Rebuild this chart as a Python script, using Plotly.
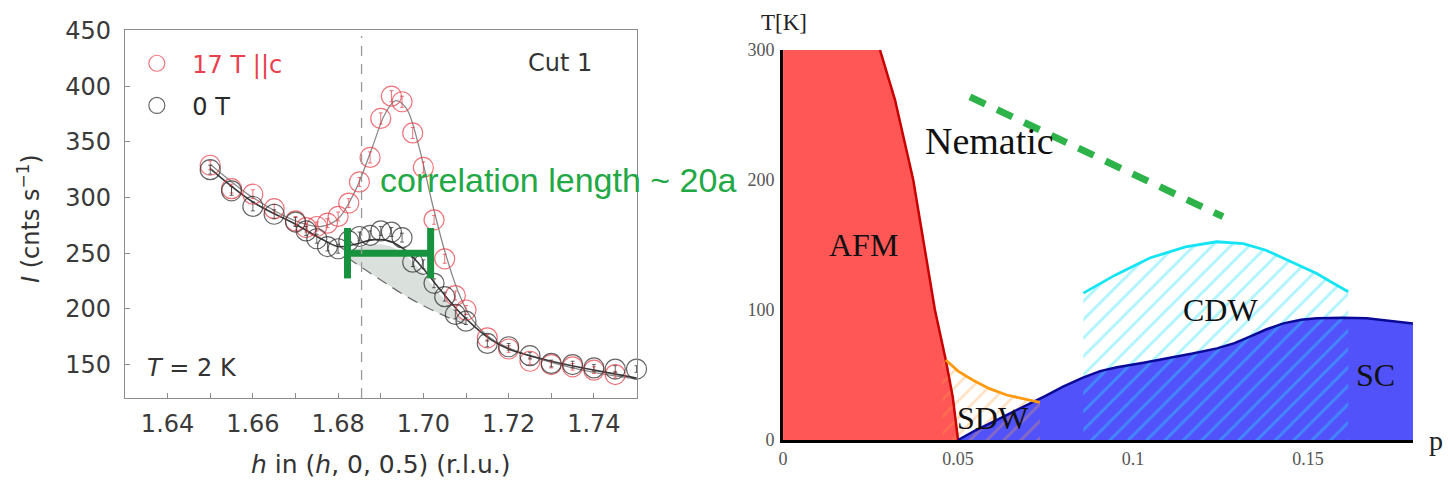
import plotly.graph_objects as go

# ---------------- left panel: intensity cuts ----------------
# 17 T (field || c) scan
h_17T = [1.650, 1.655, 1.660, 1.665, 1.670, 1.6725, 1.675, 1.6775, 1.680, 1.6825,
         1.685, 1.6875, 1.690, 1.6925, 1.695, 1.6975, 1.700, 1.7025, 1.705, 1.7075,
         1.710, 1.715, 1.720, 1.725, 1.730, 1.735, 1.740, 1.745]
I_17T = [329, 308, 303, 290, 279, 273, 274, 277, 283, 295,
         314, 336, 371, 391, 386, 358, 327, 280, 245, 212,
         199, 174, 164, 153, 150, 148, 145, 141]
err_17T = [4, 4, 4, 4, 4, 4, 4, 4, 4, 4,
           4, 5, 5, 5, 5, 5, 5, 4, 4, 4,
           4, 3, 3, 3, 3, 3, 3, 3]

# 0 T scan
h_0T = [1.650, 1.655, 1.660, 1.665, 1.670, 1.6725, 1.675, 1.6775, 1.680, 1.6825,
        1.685, 1.6875, 1.690, 1.6925, 1.695, 1.6975, 1.700, 1.7025, 1.705, 1.7075,
        1.710, 1.715, 1.720, 1.725, 1.730, 1.735, 1.740, 1.745, 1.750]
I_0T = [325, 306, 292, 285, 278, 270, 263, 256, 254, 261,
        265, 266, 270, 269, 264, 242, 240, 223, 211, 195,
        189, 169, 166, 158, 151, 150, 147, 146, 146]
err_0T = [4, 4, 4, 4, 4, 4, 4, 4, 4, 4,
          4, 4, 4, 4, 4, 4, 4, 4, 4, 4,
          3, 3, 3, 3, 3, 3, 3, 3, 3]

# fitted curves
fit17_h = [1.650, 1.660, 1.670, 1.676, 1.680, 1.684, 1.688, 1.691, 1.6935, 1.696,
           1.699, 1.702, 1.705, 1.708, 1.711, 1.715, 1.720, 1.730, 1.740, 1.750]
fit17_I = [330, 300, 279, 274, 281, 306, 345, 375, 387, 380,
           345, 296, 252, 217, 193, 176, 165, 152, 143, 137]
fit0_h = [1.650, 1.660, 1.670, 1.676, 1.680, 1.684, 1.688, 1.692, 1.696, 1.700,
          1.704, 1.708, 1.712, 1.716, 1.720, 1.730, 1.740, 1.750]
fit0_I = [326, 296, 276, 263, 256, 258, 262, 261, 252, 236,
          217, 199, 184, 172, 164, 153, 145, 138]

# zero-field bump above the smooth background
bump_h = [1.6822, 1.686, 1.690, 1.694, 1.698, 1.702, 1.706, 1.710]
bump_fit = [250, 256, 258, 253, 240, 222, 204, 189]
bump_bg = [246, 236, 226, 216, 207, 199, 192, 186]

peak_h = 1.6855               # dashed guide at the CDW wave-vector
corr_bar_h = [1.6822, 1.7017]  # extent of the correlation-length bar
corr_bar_I = [250, 250]

# ---------------- right panel: phase diagram ----------------
afm_edge_p = [0.0277, 0.0288, 0.0301, 0.0320, 0.0372, 0.0403, 0.0434, 0.0465, 0.0485, 0.0500]
afm_edge_T = [300, 290, 278, 261.5, 200, 150, 100, 61.5, 33, 0]

sc_edge_p = [0.050, 0.055, 0.060, 0.0650, 0.0700, 0.0750, 0.080, 0.0857, 0.0906, 0.0954,
             0.1030, 0.1097, 0.117, 0.124, 0.1290, 0.1334, 0.138, 0.143, 0.148, 0.1525,
             0.160, 0.1668, 0.173, 0.180]
sc_edge_T = [0, 7.5, 14, 20.5, 27, 34, 41, 48, 53, 56,
             59.5, 62.8, 66.5, 70.5, 74.5, 79.5, 85, 89.7, 92.5, 93.6,
             94, 93.6, 92, 89.7]

sdw_edge_p = [0.0465, 0.0500, 0.0543, 0.0590, 0.0639, 0.0690, 0.0734]
sdw_edge_T = [61.5, 53, 46, 39.5, 34.6, 31.3, 29]

cdw_edge_p = [0.0858, 0.0950, 0.1048, 0.1150, 0.1239, 0.1315, 0.1380, 0.143, 0.1480, 0.1525, 0.1570, 0.1615]
cdw_edge_T = [113, 127, 140, 148.5, 152.5, 151, 146, 140, 134, 128, 121, 114]

nematic_p = [0.0534, 0.1257]
nematic_T = [264, 171.8]

RED = "rgba(232,62,72,0.72)"
GREY = "rgba(45,45,45,0.72)"
SANS = "DejaVu Sans"
SERIF = "Liberation Serif"

fig = go.Figure()

# ---- left panel traces ----
fig.add_trace(go.Scatter(x=bump_h, y=bump_fit, mode="lines", line=dict(width=0, shape="spline"),
                         showlegend=False, hoverinfo="skip", xaxis="x", yaxis="y"))
fig.add_trace(go.Scatter(x=bump_h, y=bump_bg, mode="lines", fill="tonexty",
                         fillcolor="rgba(205,213,208,0.75)",
                         line=dict(color="#6e6e6e", width=1.3, dash="11px,7px", shape="spline"),
                         showlegend=False, hoverinfo="skip", xaxis="x", yaxis="y"))
fig.add_trace(go.Scatter(x=fit17_h, y=fit17_I, mode="lines",
                         line=dict(color="#8a8a8a", width=1.3, shape="spline"),
                         showlegend=False, xaxis="x", yaxis="y"))
fig.add_trace(go.Scatter(x=fit0_h, y=fit0_I, mode="lines",
                         line=dict(color="#3a3a3a", width=1.6, shape="spline"),
                         showlegend=False, xaxis="x", yaxis="y"))
fig.add_trace(go.Scatter(x=h_17T, y=I_17T, mode="markers", name="<span style='color:#e8414c'>17 T ||c</span>",
                         marker=dict(symbol="circle-open", size=20, color=RED, line=dict(width=1.2)),
                         error_y=dict(type="data", array=err_17T, color=RED, thickness=1, width=2),
                         cliponaxis=False, legendgroup="a", xaxis="x", yaxis="y"))
fig.add_trace(go.Scatter(x=h_0T, y=I_0T, mode="markers", name="0 T",
                         marker=dict(symbol="circle-open", size=20, color=GREY, line=dict(width=1.2)),
                         error_y=dict(type="data", array=err_0T, color=GREY, thickness=1, width=2),
                         cliponaxis=False, legendgroup="b", xaxis="x", yaxis="y"))
fig.add_trace(go.Scatter(x=corr_bar_h, y=corr_bar_I, mode="lines+markers",
                         line=dict(color="#17923f", width=7),
                         marker=dict(symbol="line-ns", size=36, color="#17923f",
                                     line=dict(color="#17923f", width=7)),
                         showlegend=False, cliponaxis=False, xaxis="x", yaxis="y"))

# ---- right panel traces ----
fig.add_trace(go.Scatter(x=[0, 0] + afm_edge_p, y=[0, afm_edge_T[0]] + afm_edge_T,
                         mode="lines", fill="toself", fillcolor="#ff5656",
                         line=dict(width=0), showlegend=False, xaxis="x2", yaxis="y2"))
fig.add_trace(go.Scatter(x=sc_edge_p + [sc_edge_p[-1]], y=sc_edge_T + [0],
                         mode="lines", fill="toself", fillcolor="#5252fa",
                         line=dict(width=0), showlegend=False, xaxis="x2", yaxis="y2"))
fig.add_trace(go.Scatter(x=[sdw_edge_p[0] - 0.001] + sdw_edge_p + [sdw_edge_p[-1], sdw_edge_p[0] - 0.001],
                         y=[sdw_edge_T[0]] + sdw_edge_T + [0, 0],
                         mode="lines", fill="toself", fillcolor="rgba(0,0,0,0)",
                         fillpattern=dict(shape="/", size=12, solidity=0.22,
                                          fgcolor="rgba(255,160,60,0.65)",
                                          bgcolor="rgba(0,0,0,0)", fillmode="overlay"),
                         line=dict(width=0), showlegend=False, xaxis="x2", yaxis="y2"))
fig.add_trace(go.Scatter(x=cdw_edge_p + [cdw_edge_p[-1], cdw_edge_p[0]],
                         y=cdw_edge_T + [0, 0],
                         mode="lines", fill="toself", fillcolor="rgba(0,0,0,0)",
                         fillpattern=dict(shape="/", size=13, solidity=0.22,
                                          fgcolor="rgba(40,225,255,0.75)",
                                          bgcolor="rgba(0,0,0,0)", fillmode="overlay"),
                         line=dict(width=0), showlegend=False, xaxis="x2", yaxis="y2"))
fig.add_trace(go.Scatter(x=afm_edge_p, y=afm_edge_T, mode="lines",
                         line=dict(color="#c80000", width=2.5),
                         showlegend=False, xaxis="x2", yaxis="y2"))
fig.add_trace(go.Scatter(x=sc_edge_p, y=sc_edge_T, mode="lines",
                         line=dict(color="#0a0a96", width=2.5),
                         showlegend=False, xaxis="x2", yaxis="y2"))
fig.add_trace(go.Scatter(x=sdw_edge_p, y=sdw_edge_T, mode="lines",
                         line=dict(color="#ff9a10", width=2.8),
                         showlegend=False, xaxis="x2", yaxis="y2"))
fig.add_trace(go.Scatter(x=cdw_edge_p, y=cdw_edge_T, mode="lines",
                         line=dict(color="#14e4f4", width=2.8),
                         showlegend=False, xaxis="x2", yaxis="y2"))
fig.add_trace(go.Scatter(x=nematic_p, y=nematic_T, mode="lines",
                         line=dict(color="#2db34a", width=7, dash="17px,13px"),
                         showlegend=False, xaxis="x2", yaxis="y2"))

left_tick_font = dict(family=SANS, size=24, color="#3a3a3a")
right_tick_font = dict(family=SERIF, size=18, color="#555555")

fig.update_layout(
    width=1448, height=484,
    margin=dict(l=0, r=0, t=0, b=0, autoexpand=False),
    paper_bgcolor="white", plot_bgcolor="rgba(0,0,0,0)",
    showlegend=True,
    legend=dict(x=0.0838, y=0.915, xanchor="left", yanchor="top",
                font=dict(family=SANS, size=24, color="#2a2a2a"),
                bgcolor="rgba(0,0,0,0)", tracegroupgap=8, itemwidth=61),
    xaxis=dict(domain=[0.0863, 0.4402], range=[1.630, 1.7502], automargin=False,
               tick0=1.64, dtick=0.02, tickformat=".2f",
               ticks="inside", ticklen=5, tickcolor="#8c8c8c",
               minor=dict(tick0=1.64, dtick=0.01, ticks="inside", ticklen=5, tickcolor="#8c8c8c"),
               showline=True, mirror=True, linecolor="#8c8c8c", linewidth=1.3,
               showgrid=False, zeroline=False, tickfont=left_tick_font, ticklabelstandoff=4),
    yaxis=dict(domain=[0.1777, 0.937], range=[120, 450], tick0=150, dtick=50, automargin=False,
               ticks="inside", ticklen=5, tickcolor="#8c8c8c",
               showline=True, mirror=True, linecolor="#8c8c8c", linewidth=1.3,
               showgrid=False, zeroline=False, tickfont=left_tick_font, ticklabelstandoff=8),
    xaxis2=dict(domain=[0.5408, 0.9758], range=[0, 0.18], anchor="y2", automargin=False,
                tickvals=[0, 0.05, 0.1, 0.15], ticktext=["0", "0.05", "0.1", "0.15"],
                ticks="", showline=True, linecolor="black", linewidth=3,
                showgrid=False, zeroline=False, tickfont=right_tick_font, ticklabelstandoff=0),
    yaxis2=dict(domain=[0.0909, 0.8967], range=[0, 300], anchor="x2", automargin=False,
                tickvals=[0, 100, 200, 300], ticks="", showline=True, linecolor="black", linewidth=3,
                showgrid=False, zeroline=False, tickfont=right_tick_font, ticklabelstandoff=2),
)

fig.add_shape(type="line", xref="x", yref="y domain", x0=peak_h, x1=peak_h, y0=0, y1=0.985,
              line=dict(color="#9a9a9a", width=1.3, dash="10px,8px"))

ann = [
    dict(text="<i>I</i> (cnts s<sup>−1</sup>)", x=0.0200, y=0.5496, xref="paper", yref="paper",
         textangle=-90, font=dict(family=SANS, size=24, color="#333333")),
    dict(text="<i>h</i> in (<i>h</i>, 0, 0.5) (r.l.u.)", x=0.2631, y=0.0393, xref="paper", yref="paper",
         font=dict(family=SANS, size=25, color="#333333")),
    dict(text="Cut 1", x=0.3867, y=0.8698, xref="paper", yref="paper",
         font=dict(family=SANS, size=24, color="#333333")),
    dict(text="<i>T</i> = 2 K", x=0.1001, y=0.2397, xref="paper", yref="paper", xanchor="left",
         font=dict(family=SANS, size=24, color="#333333")),
    dict(text="correlation length ~ 20a", x=0.2610, y=0.628, xref="paper", yref="paper",
         xanchor="left", font=dict(family="Liberation Sans", size=34, color="#22a845")),
    dict(text="Nematic", x=0.0591, y=230, xref="x2", yref="y2",
         font=dict(family=SERIF, size=38, color="#111111")),
    dict(text="AFM", x=0.0229, y=150, xref="x2", yref="y2",
         font=dict(family=SERIF, size=32, color="#111111")),
    dict(text="SDW", x=0.060, y=17, xref="x2", yref="y2",
         font=dict(family=SERIF, size=32, color="#111111")),
    dict(text="CDW", x=0.1249, y=100, xref="x2", yref="y2",
         font=dict(family=SERIF, size=32, color="#111111")),
    dict(text="SC", x=0.1694, y=50, xref="x2", yref="y2",
         font=dict(family=SERIF, size=32, color="#111111")),
    dict(text="T[K]", x=0.5414, y=0.9525, xref="paper", yref="paper",
         font=dict(family=SERIF, size=23, color="#222222")),
    dict(text="p", x=0.9917, y=0.0909, xref="paper", yref="paper",
         font=dict(family=SERIF, size=28, color="#222222")),
]
for a in ann:
    a.setdefault("showarrow", False)
    a.setdefault("xanchor", "center")
    a.setdefault("yanchor", "middle")
    fig.add_annotation(**a)

fig.write_html("out.html")
